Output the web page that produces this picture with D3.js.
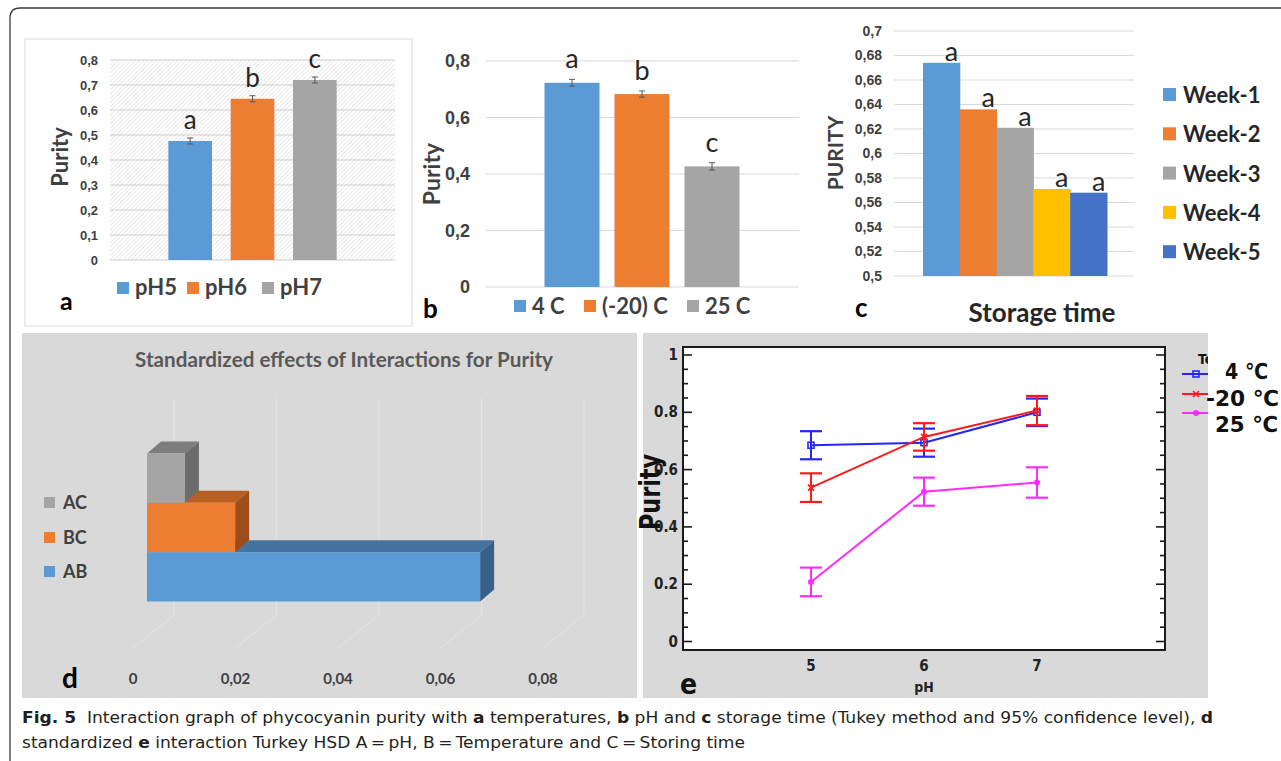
<!DOCTYPE html>
<html>
  <head>
    <meta charset="utf-8">
    <script src="https://d3js.org/d3.v7.min.js"></script>
    <style>
      body { margin: 0; background: #fff; }
      svg { display: block; font-family: Lato, "Open Sans", sans-serif; }
      .tick text { font-weight: bold; fill: #404040; }
      .narrow { font-family: "Liberation Sans Narrow", "DejaVu Sans Condensed", "Arial Narrow", sans-serif; }
    </style>
  </head>
  <body>
    <svg width="1281" height="761"></svg>
    <script>

    // panel a: pH
    var phLabels = ["pH5", "pH6", "pH7"],
        phPurity = [0.476, 0.645, 0.72],
        phErr = [0.012, 0.012, 0.012],
        phLetters = ["a", "b", "c"];

    // panel b: temperature
    var tempLabels = ["4 C", "(-20) C", "25 C"],
        tempPurity = [0.723, 0.683, 0.427],
        tempErr = [0.012, 0.011, 0.013],
        tempLetters = ["a", "b", "c"];

    // panel c: storage time
    var weeks = ["Week-1", "Week-2", "Week-3", "Week-4", "Week-5"],
        weekPurity = [0.674, 0.636, 0.621, 0.571, 0.568],
        weekLetters = ["a", "a", "a", "a", "a"];

    // panel d: standardized effects
    var effects = ["AB", "BC", "AC"],
        effectValues = [0.065, 0.0172, 0.0074],
        effectTicks = [0, 0.02, 0.04, 0.06, 0.08];

    // panel e: interaction plot
    var phLevels = [5, 6, 7],
        tempNames = ["4 \u2103", "-20 \u2103", "25 \u2103"],
        mean4 = [0.685, 0.694, 0.800],
        mean20 = [0.537, 0.714, 0.806],
        mean25 = [0.208, 0.523, 0.555],
        ci4 = [0.049, 0.049, 0.048],
        ci20 = [0.050, 0.048, 0.051],
        ci25 = [0.050, 0.049, 0.053];

    var officeColors = ["#5b9bd5", "#ed7d31", "#a5a5a5", "#ffc000", "#4472c4"];
    var commaFmt = function(d) { return d3.format("~f")(d).replace(".", ","); };

    var svg = d3.select("svg");
    var defs = svg.append("defs");

    defs.append("pattern")
        .attr("id", "hatch")
        .attr("width", 3).attr("height", 3)
        .attr("patternUnits", "userSpaceOnUse")
        .attr("patternTransform", "rotate(45)")
        .append("line")
        .attr("x1", 0).attr("y1", 0).attr("x2", 0).attr("y2", 3)
        .attr("stroke", "#dcdcdc").attr("stroke-width", 1.2);

    defs.append("clipPath").attr("id", "clipE")
        .append("rect").attr("x", 643).attr("y", 333).attr("width", 565).attr("height", 365);

    // outer frame
    svg.append("path")
        .attr("d", "M10,761 V18 Q10,8 20,8 H1281")
        .attr("fill", "none").attr("stroke", "#3a3a3a").attr("stroke-width", 1.3);

    // helper for small error bars
    function errorBars(g, xs, ys, labels, vals, errs) {
      var eb = g.append("g").attr("stroke", "#595959").attr("stroke-width", 1);
      labels.forEach(function(l, i) {
        var cx = xs(l) + xs.bandwidth() / 2;
        eb.append("line").attr("x1", cx).attr("x2", cx)
          .attr("y1", ys(vals[i] - errs[i])).attr("y2", ys(vals[i] + errs[i]));
        [vals[i] - errs[i], vals[i] + errs[i]].forEach(function(v) {
          eb.append("line").attr("x1", cx - 3).attr("x2", cx + 3).attr("y1", ys(v)).attr("y2", ys(v));
        });
      });
    }

    // ================= panel a =================
    var gA = svg.append("g");
    gA.append("rect").attr("x", 25).attr("y", 39).attr("width", 387).attr("height", 287)
        .attr("fill", "#fff").attr("stroke", "#d9d9d9");

    var yA = d3.scaleLinear().domain([0, 0.8]).range([260, 60]);
    var xA = d3.scaleBand().domain(phLabels).range([159, 346]).paddingInner(0.3).paddingOuter(0.15);

    gA.append("rect").attr("x", 110).attr("y", 60).attr("width", 285).attr("height", 200)
        .attr("fill", "url(#hatch)");
    gA.append("g").selectAll("line").data(yA.ticks(8)).enter().append("line")
        .attr("x1", 110).attr("x2", 395)
        .attr("y1", function(d) { return yA(d); }).attr("y2", function(d) { return yA(d); })
        .attr("stroke", "#cfcfcf");

    var axA = gA.append("g").attr("transform", "translate(110,0)")
        .call(d3.axisLeft(yA).ticks(8).tickSize(0).tickPadding(12).tickFormat(commaFmt));
    axA.select(".domain").remove();
    axA.selectAll("text").style("font-size", "13px").attr("fill", "#333");

    gA.selectAll(".barA").data(phLabels).enter().append("rect")
        .attr("x", function(d) { return xA(d); })
        .attr("y", function(d, i) { return yA(phPurity[i]); })
        .attr("width", xA.bandwidth())
        .attr("height", function(d, i) { return yA(0) - yA(phPurity[i]); })
        .attr("fill", function(d, i) { return officeColors[i]; });
    errorBars(gA, xA, yA, phLabels, phPurity, phErr);

    gA.selectAll(".letA").data(phLabels).enter().append("text")
        .attr("x", function(d) { return xA(d) + xA.bandwidth() / 2; })
        .attr("y", function(d, i) { return yA(phPurity[i] + phErr[i]) - 9; })
        .attr("text-anchor", "middle").style("font-size", "26px").attr("fill", "#262626")
        .text(function(d, i) { return phLetters[i]; });

    gA.append("text").attr("transform", "translate(68,157) rotate(-90)")
        .attr("text-anchor", "middle").style("font-size", "22px").style("font-weight", "bold")
        .attr("fill", "#404040").text("Purity");

    var legA = gA.selectAll(".legA").data(phLabels).enter().append("g")
        .attr("transform", function(d, i) { return "translate(" + [117, 187, 262][i] + ",282)"; });
    legA.append("rect").attr("width", 12).attr("height", 12)
        .attr("fill", function(d, i) { return officeColors[i]; });
    legA.append("text").attr("x", 18).attr("y", 13)
        .style("font-size", "22px").style("font-weight", "bold").attr("fill", "#404040")
        .text(function(d) { return d; });

    gA.append("text").attr("x", 60).attr("y", 310)
        .style("font-size", "25px").style("font-weight", "bold").text("a");

    // ================= panel b =================
    var gB = svg.append("g");
    var yB = d3.scaleLinear().domain([0, 0.8]).range([287, 61]);
    var xB = d3.scaleBand().domain(tempLabels).range([537, 747]).paddingInner(0.214).paddingOuter(0.107);

    gB.append("g").selectAll("line").data(yB.ticks(4)).enter().append("line")
        .attr("x1", 486).attr("x2", 799)
        .attr("y1", function(d) { return yB(d); }).attr("y2", function(d) { return yB(d); })
        .attr("stroke", "#d9d9d9");
    var axB = gB.append("g").attr("transform", "translate(486,0)")
        .call(d3.axisLeft(yB).ticks(4).tickSize(0).tickPadding(16).tickFormat(commaFmt));
    axB.select(".domain").remove();
    axB.selectAll("text").style("font-size", "18px").attr("fill", "#333");

    gB.selectAll(".barB").data(tempLabels).enter().append("rect")
        .attr("x", function(d) { return xB(d); })
        .attr("y", function(d, i) { return yB(tempPurity[i]); })
        .attr("width", xB.bandwidth())
        .attr("height", function(d, i) { return yB(0) - yB(tempPurity[i]); })
        .attr("fill", function(d, i) { return officeColors[i]; });
    errorBars(gB, xB, yB, tempLabels, tempPurity, tempErr);

    gB.selectAll(".letB").data(tempLabels).enter().append("text")
        .attr("x", function(d) { return xB(d) + xB.bandwidth() / 2; })
        .attr("y", function(d, i) { return yB(tempPurity[i] + tempErr[i]) - 11; })
        .attr("text-anchor", "middle").style("font-size", "27px").attr("fill", "#262626")
        .text(function(d, i) { return tempLetters[i]; });

    gB.append("text").attr("transform", "translate(440,174) rotate(-90)")
        .attr("text-anchor", "middle").style("font-size", "23px").style("font-weight", "bold")
        .attr("fill", "#404040").text("Purity");

    var legB = gB.selectAll(".legB").data(tempLabels).enter().append("g")
        .attr("transform", function(d, i) { return "translate(" + [514, 584, 687][i] + ",300)"; });
    legB.append("rect").attr("width", 12).attr("height", 12)
        .attr("fill", function(d, i) { return officeColors[i]; });
    legB.append("text").attr("x", 18).attr("y", 14)
        .style("font-size", "22px").style("font-weight", "bold").attr("fill", "#404040")
        .text(function(d) { return d; });

    gB.append("text").attr("x", 423).attr("y", 318)
        .style("font-size", "26px").style("font-weight", "bold").text("b");

    // ================= panel c =================
    var gC = svg.append("g");
    var yC = d3.scaleLinear().domain([0.5, 0.7]).range([276, 31]);
    var xC = d3.scaleBand().domain(weeks).range([923, 1107]);

    gC.append("g").selectAll("line").data(yC.ticks(10)).enter().append("line")
        .attr("x1", 894).attr("x2", 1134)
        .attr("y1", function(d) { return yC(d); }).attr("y2", function(d) { return yC(d); })
        .attr("stroke", "#d9d9d9");
    var axC = gC.append("g").attr("transform", "translate(894,0)")
        .call(d3.axisLeft(yC).ticks(10).tickSize(0).tickPadding(12).tickFormat(commaFmt));
    axC.select(".domain").remove();
    axC.selectAll("text").style("font-size", "14px").attr("fill", "#333");

    gC.selectAll(".barC").data(weeks).enter().append("rect")
        .attr("x", function(d) { return xC(d); })
        .attr("y", function(d, i) { return yC(weekPurity[i]); })
        .attr("width", xC.bandwidth() + 0.5)
        .attr("height", function(d, i) { return yC(0.5) - yC(weekPurity[i]); })
        .attr("fill", function(d, i) { return officeColors[i]; });

    gC.selectAll(".letC").data(weeks).enter().append("text")
        .attr("x", function(d) { return xC(d) + xC.bandwidth() / 2 + 10; })
        .attr("y", function(d, i) { return yC(weekPurity[i]) - 2; })
        .attr("text-anchor", "middle").style("font-size", "27px").attr("fill", "#262626")
        .text(function(d, i) { return weekLetters[i]; });

    gC.append("text").attr("transform", "translate(843,153) rotate(-90)")
        .attr("text-anchor", "middle").style("font-size", "21px").style("font-weight", "bold")
        .attr("fill", "#404040").text("PURITY");

    var legC = gC.selectAll(".legC").data(weeks).enter().append("g")
        .attr("transform", function(d, i) { return "translate(1163," + (88 + i * 39.3) + ")"; });
    legC.append("rect").attr("width", 13).attr("height", 13)
        .attr("fill", function(d, i) { return officeColors[i]; });
    legC.append("text").attr("x", 20).attr("y", 15)
        .style("font-size", "22px").style("font-weight", "bold").attr("fill", "#262626")
        .text(function(d) { return d; });

    gC.append("text").attr("x", 1042).attr("y", 322).attr("text-anchor", "middle")
        .style("font-size", "26px").style("font-weight", "bold").attr("fill", "#262626")
        .text("Storage time");
    gC.append("text").attr("x", 855).attr("y", 317)
        .style("font-size", "26px").style("font-weight", "bold").text("c");

    // ================= panel d =================
    var gD = svg.append("g");
    gD.append("rect").attr("x", 22).attr("y", 333).attr("width", 615).attr("height", 365)
        .attr("fill", "#d9d9d9");
    gD.append("text").attr("x", 135).attr("y", 367)
        .attr("textLength", 418).attr("lengthAdjust", "spacingAndGlyphs")
        .style("font-size", "20px").style("font-weight", "bold").attr("fill", "#595959")
        .text("Standardized effects of Interactions for Purity");

    var xD = d3.scaleLinear().domain([0, 0.08]).range([133, 543]);
    var yD = d3.scaleBand().domain(effects).range([648, 431]).paddingInner(0).paddingOuter(0.7);
    var wall = {dx: 41, dy: -33}, depth = {dx: 14, dy: -12};
    var floorY = 648, wallTop = 431 + wall.dy;

    var grid = gD.append("g").attr("stroke", "#e4e4e4").attr("stroke-width", 1);
    effectTicks.forEach(function(t) {
      grid.append("line").attr("x1", xD(t) + wall.dx).attr("x2", xD(t) + wall.dx)
          .attr("y1", wallTop).attr("y2", floorY + wall.dy);
      grid.append("line").attr("x1", xD(t) + wall.dx).attr("y1", floorY + wall.dy)
          .attr("x2", xD(t)).attr("y2", floorY);
    });

    gD.append("g").selectAll("text").data(effectTicks).enter().append("text")
        .attr("x", function(d) { return xD(d); }).attr("y", 684)
        .attr("text-anchor", "middle").style("font-size", "15px").style("font-weight", "bold")
        .attr("fill", "#404040").text(commaFmt);

    var faceColors = {
      AB: ["#5b9bd5", "#44739f", "#386088"],
      BC: ["#ed7d31", "#b95e21", "#9b4d1a"],
      AC: ["#a5a5a5", "#7e7e7e", "#6c6c6c"]
    };
    effects.forEach(function(e, i) {
      var x0 = xD(0) + depth.dx, x1 = xD(effectValues[i]) + depth.dx,
          y0 = yD(e) + depth.dy, y1 = y0 + yD.bandwidth();
      var c = faceColors[e];
      gD.append("polygon").attr("fill", c[1])
        .attr("points", [[x0, y0], [x1, y0], [x1 + depth.dx, y0 + depth.dy], [x0 + depth.dx, y0 + depth.dy]].join(" "));
      gD.append("polygon").attr("fill", c[2])
        .attr("points", [[x1, y0], [x1 + depth.dx, y0 + depth.dy], [x1 + depth.dx, y1 + depth.dy], [x1, y1]].join(" "));
      gD.append("rect").attr("x", x0).attr("y", y0).attr("width", x1 - x0).attr("height", y1 - y0)
        .attr("fill", c[0]);
    });

    var legD = gD.selectAll(".legD").data(effects).enter().append("g")
        .attr("transform", function(d, i) { return "translate(44," + [566, 532, 497][i] + ")"; });
    legD.append("rect").attr("width", 11).attr("height", 11)
        .attr("fill", function(d) { return faceColors[d][0]; });
    legD.append("text").attr("x", 19).attr("y", 12)
        .style("font-size", "18px").style("font-weight", "bold").attr("fill", "#404040")
        .text(function(d) { return d; });

    gD.append("text").attr("x", 62).attr("y", 688)
        .style("font-size", "28px").style("font-weight", "bold").text("d");

    // ================= panel e =================
    var gE = svg.append("g").attr("class", "narrow");
    gE.append("rect").attr("x", 643).attr("y", 333).attr("width", 565).attr("height", 365)
        .attr("fill", "#d9d9d9");
    gE.append("rect").attr("x", 683).attr("y", 347).attr("width", 482).attr("height", 303)
        .attr("fill", "#fff").attr("stroke", "#1a1a1a").attr("stroke-width", 2);

    var xE = d3.scaleLinear().domain([5, 7]).range([811, 1037]);
    var yE = d3.scaleLinear().domain([0, 1]).range([641.5, 355]);

    var tk = gE.append("g").attr("stroke", "#1a1a1a").attr("stroke-width", 1.6);
    d3.range(0, 1.0001, 0.05).forEach(function(t) {
      var major = Math.abs(t * 5 - Math.round(t * 5)) < 1e-6;
      var len = major ? 9 : 5;
      tk.append("line").attr("x1", 683).attr("x2", 683 + len).attr("y1", yE(t)).attr("y2", yE(t));
      tk.append("line").attr("x1", 1165).attr("x2", 1165 - len).attr("y1", yE(t)).attr("y2", yE(t));
    });

    gE.append("g").selectAll("text").data(yE.ticks(5)).enter().append("text")
        .attr("x", 678).attr("y", function(d) { return yE(d) + 5; })
        .attr("text-anchor", "end").style("font-size", "15px").style("font-weight", "bold")
        .attr("fill", "#222").text(d3.format("~f"));
    gE.append("g").selectAll("text").data(phLevels).enter().append("text")
        .attr("x", function(d) { return xE(d); }).attr("y", 671)
        .attr("text-anchor", "middle").style("font-size", "15px").style("font-weight", "bold")
        .attr("fill", "#222").text(function(d) { return d; });
    gE.append("text").attr("x", 924).attr("y", 692).attr("text-anchor", "middle")
        .style("font-size", "14px").style("font-weight", "bold").attr("fill", "#222").text("pH");
    gE.append("text").attr("transform", "translate(660,530) rotate(-90)")
        .attr("textLength", 76).attr("lengthAdjust", "spacingAndGlyphs")
        .style("font-size", "28px").style("font-weight", "bold")
        .attr("fill", "#111").text("Purity");
    gE.append("text").attr("x", 680).attr("y", 694)
        .style("font-size", "28px").style("font-weight", "bold").attr("fill", "#111").text("e");

    var series = [
      {name: tempNames[0], color: "#2525ff", means: mean4, ci: ci4, marker: "square"},
      {name: tempNames[1], color: "#ff1a1a", means: mean20, ci: ci20, marker: "cross"},
      {name: tempNames[2], color: "#ff2bff", means: mean25, ci: ci25, marker: "circle"}
    ];

    function drawMarker(g, type, cx, cy, color) {
      if (type === "square") {
        g.append("rect").attr("x", cx - 3).attr("y", cy - 3).attr("width", 6).attr("height", 6)
          .attr("fill", "none").attr("stroke", color).attr("stroke-width", 1.6);
      } else if (type === "cross") {
        g.append("path").attr("d", "M" + (cx - 3) + "," + (cy - 3) + "L" + (cx + 3) + "," + (cy + 3) +
            "M" + (cx - 3) + "," + (cy + 3) + "L" + (cx + 3) + "," + (cy - 3))
          .attr("stroke", color).attr("stroke-width", 1.6);
      } else {
        g.append("circle").attr("cx", cx).attr("cy", cy).attr("r", 3).attr("fill", color);
      }
    }

    var line = d3.line()
        .x(function(d, i) { return xE(phLevels[i]); })
        .y(function(d) { return yE(d); });

    series.forEach(function(s) {
      var sg = gE.append("g");
      sg.append("path").attr("d", line(s.means))
        .attr("fill", "none").attr("stroke", s.color).attr("stroke-width", 2);
      s.means.forEach(function(m, i) {
        var cx = xE(phLevels[i]), lo = yE(m - s.ci[i]), hi = yE(m + s.ci[i]);
        sg.append("line").attr("x1", cx).attr("x2", cx).attr("y1", lo).attr("y2", hi)
          .attr("stroke", s.color).attr("stroke-width", 2);
        [lo, hi].forEach(function(yy) {
          sg.append("line").attr("x1", cx - 11).attr("x2", cx + 11).attr("y1", yy).attr("y2", yy)
            .attr("stroke", s.color).attr("stroke-width", 2.2);
        });
        drawMarker(sg, s.marker, cx, yE(m), s.color);
      });
    });

    // legend (the title is cut at the panel edge)
    var legE = gE.append("g").attr("clip-path", "url(#clipE)");
    legE.append("text").attr("x", 1198).attr("y", 364)
        .style("font-size", "14px").style("font-weight", "bold").attr("fill", "#111").text("Te");
    series.forEach(function(s, i) {
      var ly = [374, 394, 413][i];
      legE.append("line").attr("x1", 1182).attr("x2", 1208).attr("y1", ly).attr("y2", ly)
        .attr("stroke", s.color).attr("stroke-width", 2);
      drawMarker(legE, s.marker, 1196, ly, s.color);
    });
    gE.selectAll(".legT").data(series).enter().append("text")
        .attr("x", function(d, i) { return [1225, 1206, 1215][i]; })
        .attr("y", function(d, i) { return [379, 406, 432][i]; })
        .attr("textLength", function(d, i) { return [43, 73, 63][i]; })
        .attr("lengthAdjust", "spacingAndGlyphs")
        .style("font-size", "22px").style("font-weight", "bold").attr("fill", "#111")
        .text(function(d) { return d.name; });

    // ================= caption =================
    var cap = svg.append("g").attr("class", "narrow").attr("fill", "#231f20").style("font-size", "16px");
    var line1 = [["Fig. 5", true], ["  Interaction graph of phycocyanin purity with ", false], ["a", true],
                 [" temperatures, ", false], ["b", true], [" pH and ", false], ["c", true],
                 [" storage time (Tukey method and 95% confidence level), ", false], ["d", true]];
    var line2 = [["standardized ", false], ["e", true],
                 [" interaction Turkey HSD A\u2009=\u2009pH, B\u2009=\u2009Temperature and C\u2009=\u2009Storing time", false]];
    [[line1, 723, 1191], [line2, 748, 723]].forEach(function(l) {
      var t = cap.append("text").attr("x", 22).attr("y", l[1])
          .attr("textLength", l[2]).attr("lengthAdjust", "spacingAndGlyphs")
          .attr("xml:space", "preserve").style("white-space", "pre");
      l[0].forEach(function(p) {
        t.append("tspan").style("font-weight", p[1] ? "bold" : "normal").text(p[0]);
      });
    });

    </script>
  </body>
</html>
